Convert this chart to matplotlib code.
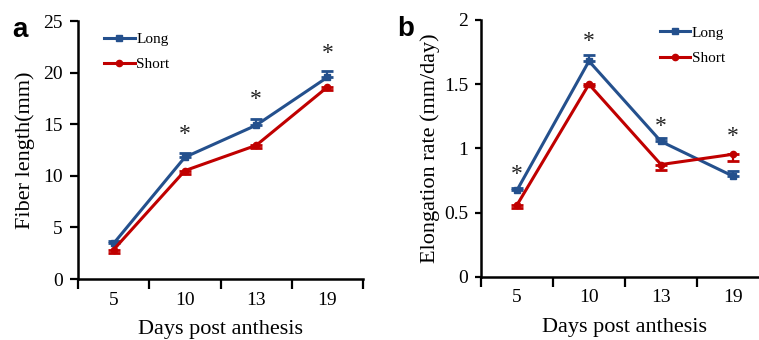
import matplotlib
matplotlib.use("Agg")
import matplotlib.pyplot as plt
import numpy as np

BLUE, RED = "#24508D", "#C00000"
SERIF = "Liberation Serif"

DAYS = ["5", "10", "13", "19"]

# panel a: fiber length (mm)
LEN_LONG = [3.45, 11.8, 14.9, 19.55]
LEN_LONG_ERR = [0.25, 0.45, 0.6, 0.6]
LEN_SHORT = [2.85, 10.5, 12.95, 18.6]
LEN_SHORT_ERR = [0.3, 0.3, 0.3, 0.3]
LEN_STARS = [None, 14.0, 17.4, 21.9]
LEN_TICKS = [0, 5, 10, 15, 20, 25]
LEN_TICKLABELS = ["0", "5", "10", "15", "20", "25"]

# panel b: elongation rate (mm/day)
RATE_LONG = [0.675, 1.68, 1.055, 0.785]
RATE_LONG_ERR = [0.015, 0.05, 0.025, 0.04]
RATE_SHORT = [0.56, 1.50, 0.875, 0.955]
RATE_SHORT_ERR = [0.02, 0.01, 0.04, 0.05]
RATE_STARS = [0.795, 1.83, 1.17, 1.09]
RATE_TICKS = [0, 0.5, 1, 1.5, 2]
RATE_TICKLABELS = ["0", "0.5", "1", "1.5", "2"]


def panel(ax, long_v, long_e, short_v, short_e, stars, ticks, ticklabels,
          ylabel, legend_anchor, ytick_len, ylabelpad):
    x = np.arange(len(DAYS))
    z = np.zeros(len(DAYS))
    ax.errorbar(x, long_v, yerr=[z, long_e], color=BLUE, lw=2.2, marker="s",
                ms=4.5, capsize=4, capthick=2.0, elinewidth=1.6, label="Long", zorder=3)
    ax.errorbar(x, short_v, yerr=[short_e, z], color=RED, lw=2.2, marker="o",
                ms=4.5, capsize=4, capthick=2.0, elinewidth=1.6, label="Short", zorder=3)
    for xi, s in zip(x, stars):
        if s is not None:
            ax.text(xi, s, "*", ha="center", va="center", fontsize=17,
                    family=SERIF, color="#222")
    ax.set_xlim(-0.5, 3.5)
    ax.set_ylim(ticks[0], ticks[-1])
    ax.set_xticks(np.arange(-0.5, 4.0, 1.0))
    ax.set_xticklabels([])
    ax.set_xticks(x, minor=True)
    ax.set_xticklabels(DAYS, minor=True, family=SERIF, fontsize=14)
    ax.tick_params(axis="x", which="major", direction="out", length=7, width=1.6)
    ax.tick_params(axis="x", which="minor", length=0, pad=9)
    ax.set_yticks(ticks)
    ax.set_yticklabels(ticklabels, family=SERIF, fontsize=14)
    ax.tick_params(axis="y", direction="out", length=ytick_len, width=1.6, pad=5)
    for side in ("top", "right"):
        ax.spines[side].set_visible(False)
    for side in ("left", "bottom"):
        ax.spines[side].set_linewidth(1.8)
    ax.set_xlabel("Days post anthesis", family=SERIF, fontsize=16, labelpad=8)
    ax.set_ylabel(ylabel, family=SERIF, fontsize=16, labelpad=ylabelpad)
    hs, ls = ax.get_legend_handles_labels()
    hs = [h[0] for h in hs]
    ax.legend(hs, ls, loc="upper left", bbox_to_anchor=legend_anchor, frameon=False,
              prop={"family": SERIF, "size": 11}, handlelength=2.0,
              handletextpad=0.1, labelspacing=0.75, borderaxespad=0)


fig = plt.figure(figsize=(7.59, 3.40), dpi=100)
ax_a = fig.add_axes([0.1028, 0.1794, 0.3755, 0.7588])
ax_b = fig.add_axes([0.6337, 0.1853, 0.3794, 0.7559])

panel(ax_a, LEN_LONG, LEN_LONG_ERR, LEN_SHORT, LEN_SHORT_ERR, LEN_STARS,
      LEN_TICKS, LEN_TICKLABELS, "Fiber length(mm)", (0.07, 0.98), 6, 6)
panel(ax_b, RATE_LONG, RATE_LONG_ERR, RATE_SHORT, RATE_SHORT_ERR, RATE_STARS,
      RATE_TICKS, RATE_TICKLABELS, "Elongation rate (mm/day)", (0.6, 1.0), 4, 3)

fig.text(0.016, 0.89, "a", family="Liberation Sans", fontweight="bold", fontsize=20)
fig.text(0.523, 0.895, "b", family="Liberation Sans", fontweight="bold", fontsize=20)

fig.savefig("out.png", dpi=100)
